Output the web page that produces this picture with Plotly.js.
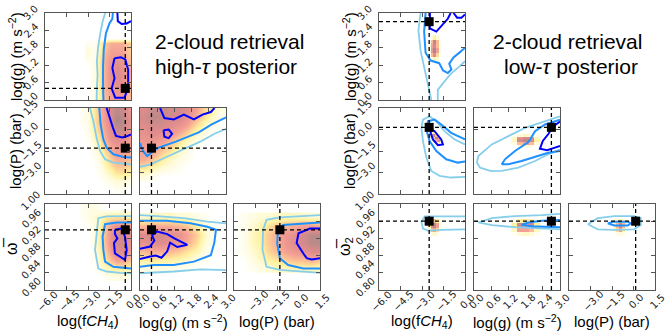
<!DOCTYPE html>
<html>
<head>
<meta charset="utf-8">
<script src="https://cdn.plot.ly/plotly-3.0.1.min.js"></script>
<style>
  body { margin: 0; background: #fff; }
  #chart { width: 667px; height: 336px; }
</style>
</head>
<body>
<div id="chart"></div>
<script>
// ---- parameter axes ----
const tickVals = {
    f: [-6, -4.5, -3, -1.5, 0],
    g: [0, 0.6, 1.2, 1.8, 2.4, 3.0],
    p: [-4.5, -3, -1.5, 0, 1.5],
    w: [0.80, 0.84, 0.88, 0.92, 0.96, 1.00]
};
const tickText = {
    f: ['\u22126.0', '\u22124.5', '\u22123.0', '\u22121.5', '0.0'],
    g: ['0.0', '0.6', '1.2', '1.8', '2.4', '3.0'],
    p: ['', '\u22123.0', '\u22121.5', '0.0', '1.5'],
    w: ['0.80', '0.84', '0.88', '0.92', '0.96', '1.00']
};
const axisRange = { f: [-6, 0], g: [0, 3], p: [-4.5, 1.5], w: [0.8, 1.0] };

// truth values: fCH4, g, P, omega
const hiTruth = [-0.4, 0.4, -1.3, 0.94];
const loTruth = [-2.5, 2.7, 0.15, 0.96];

// ---- high-tau posterior ----
const hiFgX = [-3.0, -2.6, -2.2, -1.8, -1.4, -1.0, -0.6, -0.2];
const hiFgY = [0.15, 0.45, 0.75, 1.05, 1.35, 1.65, 1.95, 2.12];
const hiFgZ = [
    [0, 0.1, 0.25, 0.5, 0.6, 0.65, 0.6, 0.5],
    [0, 0.1, 0.3, 0.55, 0.65, 0.7, 0.7, 0.55],
    [0, 0.1, 0.3, 0.55, 0.7, 0.75, 0.7, 0.55],
    [0, 0.1, 0.3, 0.55, 0.7, 0.75, 0.7, 0.55],
    [0.05, 0.1, 0.3, 0.55, 0.65, 0.7, 0.65, 0.5],
    [0.15, 0.05, 0.25, 0.5, 0.6, 0.6, 0.6, 0.45],
    [0.05, 0.05, 0.2, 0.45, 0.55, 0.55, 0.55, 0.45],
    [0, 0, 0, 0, 0, 0, 0, 0]
];
const hiFgSky = [[-1.8, 3.0], [-1.98, 2.71], [-2.16, 2.25], [-2.3, 1.8], [-2.38, 1.33], [-2.33, 0.87], [-2.38, 0.4], [-2.4, 0.0]];
const hiFgMid = [[-1.27, 3.0], [-1.3, 2.8], [-1.5, 2.65], [-1.75, 2.3], [-1.9, 1.75], [-1.95, 1.15], [-1.95, 0.45], [-1.92, 0.0]];
const hiFgDarkA = [[-0.95, 3.0], [-0.92, 2.72], [-0.65, 2.62], [-0.3, 2.64], [0, 2.72]];
const hiFgDarkB = [[-1.15, 1.44], [-0.7, 1.47], [-0.4, 1.4], [-0.2, 1.05], [-0.2, 0.45], [-0.45, 0.08], [-1.1, 0.08], [-1.35, 0.4], [-1.15, 0.75], [-1.3, 1.1], [-1.15, 1.44]];

const hiFpX = [-3.4, -3.0, -2.6, -2.2, -1.8, -1.4, -1.0, -0.6, -0.2];
const hiFpY = [-4.2, -3.6, -3.0, -2.4, -1.8, -1.2, -0.6, 0.0, 0.6, 1.2];
const hiFpZ = [
    [0, 0, 0, 0, 0, 0, 0.05, 0.05, 0],
    [0, 0, 0, 0, 0.05, 0.1, 0.15, 0.15, 0.1],
    [0, 0, 0, 0.05, 0.15, 0.25, 0.35, 0.35, 0.3],
    [0, 0, 0, 0.1, 0.25, 0.4, 0.5, 0.5, 0.45],
    [0, 0, 0.05, 0.15, 0.35, 0.5, 0.6, 0.6, 0.55],
    [0, 0, 0.1, 0.25, 0.45, 0.6, 0.65, 0.65, 0.6],
    [0, 0.05, 0.2, 0.35, 0.55, 0.7, 0.75, 0.75, 0.65],
    [0, 0.1, 0.25, 0.45, 0.6, 0.75, 0.85, 0.85, 0.7],
    [0.05, 0.1, 0.3, 0.5, 0.65, 0.8, 0.95, 0.9, 0.75],
    [0.05, 0.15, 0.3, 0.5, 0.65, 0.8, 0.9, 0.85, 0.7]
];
const hiFpSky = [[-2.86, 1.5], [-2.63, 0.58], [-2.4, -0.58], [-2.16, -1.5], [-1.81, -2.08], [-1.23, -2.31], [-0.53, -2.38], [0, -2.43]];
const hiFpMid = [[-2.21, 1.5], [-2.12, 0.35], [-1.93, -0.69], [-1.7, -1.27], [-1.23, -1.73], [-0.53, -1.92], [0, -1.96]];
const hiFpDark = [[-1.7, 1.5], [-1.5, 0.8], [-1.25, 0.1], [-1.05, -0.45], [-0.6, -0.55], [-0.25, -0.45], [0, -0.35]];

const hiGpX = [0.15, 0.45, 0.75, 1.05, 1.35, 1.65, 1.95, 2.25, 2.55, 2.85];
const hiGpY = [-3.3, -2.7, -2.1, -1.5, -0.9, -0.3, 0.3, 0.9, 1.4];
const hiGpZ = [
    [0.1, 0.05, 0, 0, 0, 0, 0, 0, 0, 0],
    [0.35, 0.25, 0.15, 0.1, 0.05, 0, 0, 0, 0, 0],
    [0.55, 0.45, 0.3, 0.2, 0.1, 0.05, 0, 0, 0, 0],
    [0.6, 0.6, 0.45, 0.35, 0.2, 0.1, 0, 0, 0, 0],
    [0.65, 0.65, 0.6, 0.5, 0.35, 0.2, 0.1, 0, 0, 0],
    [0.7, 0.75, 0.7, 0.65, 0.55, 0.4, 0.2, 0.1, 0, 0],
    [0.75, 0.8, 0.8, 0.75, 0.7, 0.6, 0.4, 0.2, 0.1, 0],
    [0.8, 0.9, 0.85, 0.8, 0.8, 0.7, 0.55, 0.35, 0.2, 0.05],
    [0.75, 0.85, 0.85, 0.8, 0.8, 0.75, 0.6, 0.4, 0.25, 0.1]
];
const hiGpSky = [[0, -2.6], [0.35, -2.45], [0.94, -1.9], [1.5, -1.4], [2.1, -0.85], [2.6, -0.3], [3.0, 0.05]];
const hiGpMid = [[0, -0.95], [0.1, -1.5], [0.25, -1.85], [0.5, -1.5], [0.6, -1.3], [1.25, -0.85], [2.05, -0.2], [2.5, 0.35], [3.0, 0.85]];
const hiGpDarkA = [[0.7, 1.5], [0.85, 0.8], [1.18, 0.7], [1.53, 1.04], [1.88, 0.7], [2.18, 1.04], [2.47, 1.22], [2.6, 1.5]];
const hiGpDarkB = [[0.82, -0.05], [1.0, 0.0], [1.12, -0.3], [1.0, -0.6], [0.85, -0.5], [0.82, -0.05]];

const hiFwX = [-3.4, -3.0, -2.6, -2.2, -1.8, -1.4, -1.0, -0.6, -0.2];
const hiFwY = [0.83, 0.85, 0.87, 0.89, 0.91, 0.93, 0.95, 0.97, 0.99];
const hiFwZ = [
    [0, 0, 0, 0, 0.05, 0.1, 0.1, 0.1, 0.05],
    [0, 0, 0, 0.1, 0.2, 0.25, 0.3, 0.3, 0.25],
    [0, 0, 0.05, 0.2, 0.35, 0.5, 0.6, 0.6, 0.5],
    [0, 0, 0.05, 0.25, 0.45, 0.65, 0.75, 0.75, 0.65],
    [0, 0, 0.1, 0.3, 0.5, 0.7, 0.8, 0.8, 0.7],
    [0, 0, 0.1, 0.3, 0.5, 0.7, 0.8, 0.8, 0.7],
    [0, 0.05, 0.1, 0.25, 0.45, 0.6, 0.7, 0.7, 0.6],
    [0.05, 0.1, 0.15, 0.2, 0.3, 0.35, 0.35, 0.35, 0.3],
    [0.05, 0.1, 0.1, 0.05, 0, 0, 0, 0, 0]
];
const hiFwSky = [[0, 0.972], [-1.7, 0.971], [-2.28, 0.967], [-2.4, 0.932], [-2.51, 0.893], [-2.28, 0.85], [-1.7, 0.843], [-0.77, 0.84], [0, 0.839]];
const hiFwMid = [[0, 0.957], [-1.0, 0.957], [-1.81, 0.953], [-1.98, 0.924], [-1.93, 0.893], [-1.81, 0.866], [-1.23, 0.854], [-0.53, 0.852], [0, 0.85]];
const hiFwDark = [[-1.12, 0.94], [-0.65, 0.943], [-0.42, 0.924], [-0.3, 0.893], [-0.42, 0.87], [-0.77, 0.878], [-1.12, 0.885], [-1.19, 0.909], [-0.95, 0.92], [-1.12, 0.93], [-1.12, 0.94]];

const hiGwX = [0.15, 0.45, 0.75, 1.05, 1.35, 1.65, 1.95, 2.25, 2.55];
const hiGwY = [0.85, 0.87, 0.89, 0.91, 0.93, 0.95, 0.97];
const hiGwZ = [
    [0.1, 0.1, 0.1, 0.1, 0.05, 0.05, 0, 0, 0],
    [0.3, 0.35, 0.3, 0.3, 0.25, 0.2, 0.1, 0.05, 0],
    [0.5, 0.55, 0.55, 0.5, 0.45, 0.35, 0.25, 0.1, 0],
    [0.7, 0.75, 0.75, 0.7, 0.65, 0.55, 0.4, 0.15, 0.05],
    [0.75, 0.8, 0.8, 0.75, 0.7, 0.6, 0.45, 0.2, 0.05],
    [0.5, 0.55, 0.55, 0.55, 0.5, 0.45, 0.3, 0.15, 0.05],
    [0.15, 0.2, 0.2, 0.2, 0.15, 0.15, 0.1, 0.05, 0]
];
const hiGwSkyA = [[0, 0.974], [0.59, 0.972], [1.53, 0.967], [2.35, 0.959], [3.0, 0.955]];
const hiGwSkyB = [[0, 0.839], [1.18, 0.843], [2.12, 0.848], [3.0, 0.846]];
const hiGwMid = [[0, 0.961], [0.94, 0.961], [1.76, 0.955], [2.35, 0.947], [2.65, 0.94], [2.59, 0.909], [2.47, 0.881], [1.88, 0.866], [1.18, 0.858], [0.47, 0.858], [0, 0.854]];
const hiGwDark = [[0, 0.896], [0.35, 0.901], [0.5, 0.915], [0.42, 0.927], [0.6, 0.936], [0.95, 0.93], [1.2, 0.92], [1.45, 0.912], [1.65, 0.905], [1.3, 0.9], [1.05, 0.91], [0.95, 0.89], [0.75, 0.875], [0.55, 0.88], [0.35, 0.878], [0, 0.872]];

const hiPwX = [-3.9, -3.3, -2.7, -2.1, -1.5, -0.9, -0.3, 0.3, 0.9, 1.4];
const hiPwY = [0.85, 0.87, 0.89, 0.91, 0.93, 0.95, 0.97];
const hiPwZ = [
    [0, 0.05, 0.1, 0.15, 0.2, 0.2, 0.25, 0.25, 0.25, 0.2],
    [0, 0.1, 0.2, 0.3, 0.35, 0.45, 0.5, 0.5, 0.55, 0.5],
    [0.05, 0.15, 0.25, 0.4, 0.5, 0.6, 0.65, 0.7, 0.75, 0.75],
    [0.05, 0.2, 0.3, 0.45, 0.55, 0.65, 0.75, 0.8, 0.9, 0.9],
    [0.05, 0.2, 0.3, 0.45, 0.55, 0.65, 0.7, 0.8, 0.9, 0.9],
    [0.05, 0.15, 0.25, 0.35, 0.45, 0.5, 0.55, 0.6, 0.6, 0.55],
    [0.05, 0.1, 0.15, 0.15, 0.2, 0.2, 0.2, 0.2, 0.15, 0.15]
];
const hiPwSky = [[1.5, 0.974], [0.34, 0.972], [-1.3, 0.969], [-2.23, 0.963], [-2.47, 0.94], [-2.51, 0.893], [-2.23, 0.854], [-1.3, 0.847], [0.34, 0.843], [1.5, 0.84]];
const hiPwMid = [[1.5, 0.957], [0.34, 0.955], [-1.07, 0.951], [-1.42, 0.94], [-1.49, 0.909], [-1.3, 0.874], [-0.72, 0.858], [0.34, 0.85], [1.5, 0.85]];
const hiPwDark = [[1.5, 0.943], [0.8, 0.943], [0.0, 0.932], [-0.13, 0.909], [0.34, 0.885], [0.57, 0.874], [0.92, 0.871], [1.5, 0.874]];

// ---- low-tau posterior ----
const loFgX = [-2.5, -2.3, -2.1, -1.9, -1.7];
const loFgY = [1.4, 1.55, 1.7, 1.85, 2.0, 2.15];
const loFgZ = [
    [0, 0.15, 0.25, 0.15, 0],
    [0.05, 0.5, 0.75, 0.4, 0.05],
    [0.1, 0.65, 0.95, 0.6, 0.1],
    [0.1, 0.6, 0.8, 0.5, 0.1],
    [0.05, 0.5, 0.9, 0.5, 0.05],
    [0, 0.15, 0.3, 0.15, 0]
];
const loFgSkyA = [[-3.1, 3.0], [-3.25, 2.4], [-3.1, 1.7], [-2.8, 1.0], [-2.55, 0.45], [-2.35, 0.0]];
const loFgSkyB = [[-1.9, 0.0], [-1.9, 0.35], [-1.5, 0.6], [-1.0, 0.9], [-0.4, 1.15], [0, 1.34]];
const loFgMid = [[-2.75, 3.0], [-2.85, 2.35], [-2.75, 1.63], [-2.4, 1.36], [-1.8, 1.27], [-1.53, 1.02], [-1.2, 0.93], [-0.95, 1.05], [-1.1, 1.25], [-0.8, 1.47], [-0.35, 1.65], [0, 1.8]];
const loFgDarkA = [[-2.45, 3.0], [-2.45, 2.47], [-2.0, 2.36], [-1.6, 2.6], [-1.2, 2.8], [-1.0, 3.0]];
const loFgDarkB = [[-0.8, 3.0], [-0.55, 2.84], [-0.25, 2.84], [0, 2.95]];

const loFpX = [-2.4, -2.2, -2.0, -1.8, -1.6];
const loFpY = [-1.0, -0.8, -0.6, -0.4, -0.2, 0.0];
const loFpZ = [
    [0, 0.05, 0.2, 0.3, 0.1],
    [0, 0.2, 0.6, 0.7, 0.2],
    [0.1, 0.5, 0.9, 0.5, 0.1],
    [0.3, 0.8, 0.5, 0.1, 0],
    [0.4, 0.3, 0.1, 0, 0],
    [0.15, 0.1, 0, 0, 0]
];
const loFpSky = [[0, -1.04], [-0.73, -0.69], [-1.43, -0.12], [-2.0, 0.58], [-2.47, 0.92], [-2.93, 0.69], [-3.04, 0.11], [-2.93, -0.81], [-2.7, -1.96], [-2.35, -2.89], [-1.77, -3.23], [-1.0, -3.35], [0, -3.3]];
const loFpMid = [[0, -0.69], [-0.97, -0.23], [-1.66, 0.35], [-2.12, 0.69], [-2.58, 0.58], [-2.7, 0.0], [-2.47, -0.81], [-2.0, -1.5], [-1.31, -2.08], [-0.5, -2.31], [0, -2.24]];
const loFpDark = [[-2.35, 0.0], [-2.12, -0.12], [-1.66, -0.69], [-1.54, -1.04], [-1.89, -1.09], [-2.24, -0.69], [-2.4, -0.23], [-2.35, 0.0]];

const loGpX = [1.4, 1.6, 1.8, 2.0, 2.2];
const loGpY = [-1.2, -1.0, -0.8, -0.6, -0.4];
const loGpZ = [
    [0, 0.1, 0.15, 0.1, 0],
    [0.1, 0.5, 0.6, 0.5, 0.15],
    [0.2, 0.8, 0.9, 0.8, 0.3],
    [0.2, 0.7, 0.8, 0.7, 0.2],
    [0.05, 0.15, 0.2, 0.15, 0.05]
];
const loGpSky = [[3.0, 0.92], [2.83, 0.81], [2.36, 0.46], [1.78, 0.11], [1.2, -0.46], [0.62, -1.04], [0.15, -1.85], [0.1, -2.3], [0.21, -2.66], [0.6, -2.9], [0.97, -2.89], [1.55, -2.66], [2.13, -2.2], [2.59, -1.73], [3.0, -1.39]];
const loGpMid = [[3.0, 0.69], [2.48, 0.35], [2.13, -0.12], [1.9, -0.88], [1.43, -1.5], [1.08, -2.08], [0.97, -2.43], [1.2, -2.43], [1.66, -2.2], [2.24, -1.85], [2.59, -1.62], [3.0, -1.5]];
const loGpDark = [[3.0, 0.55], [2.75, 0.2], [2.6, -0.3], [2.4, -0.8], [2.3, -1.35], [2.55, -1.45], [2.85, -1.25], [3.0, -1.15]];

const loFwX = [-2.5, -2.3, -2.1, -1.9, -1.7];
const loFwY = [0.93, 0.94, 0.95, 0.96];
const loFwZ = [
    [0, 0.15, 0.2, 0.1, 0],
    [0.15, 0.5, 0.6, 0.4, 0.05],
    [0.3, 0.8, 0.9, 0.6, 0.1],
    [0.3, 0.5, 0.5, 0.3, 0.1]
];
const loFwSky = [[0, 0.971], [-1.66, 0.972], [-2.81, 0.971], [-3.04, 0.959], [-2.93, 0.943], [-2.58, 0.938], [-1.66, 0.94], [0, 0.941]];

const loGwX = [1.4, 1.6, 1.8, 2.0, 2.2];
const loGwY = [0.93, 0.94, 0.95, 0.96];
const loGwZ = [
    [0.05, 0.15, 0.2, 0.15, 0.05],
    [0.2, 0.6, 0.6, 0.5, 0.2],
    [0.3, 0.8, 0.7, 0.8, 0.3],
    [0.1, 0.3, 0.35, 0.3, 0.1]
];
const loGwSky = [[3.0, 0.977], [2.36, 0.974], [1.43, 0.972], [0.62, 0.967], [0.15, 0.957], [0.62, 0.951], [1.43, 0.946], [2.13, 0.943], [3.0, 0.941]];
const loGwMid = [[3.0, 0.963], [2.36, 0.961], [1.9, 0.957], [1.66, 0.952], [2.01, 0.948], [2.59, 0.946], [3.0, 0.946]];

const loPwX = [-1.3, -1.1, -0.9, -0.7, -0.5];
const loPwY = [0.93, 0.94, 0.95, 0.96];
const loPwZ = [
    [0, 0.1, 0.15, 0.1, 0],
    [0.1, 0.4, 0.6, 0.3, 0.05],
    [0.2, 0.5, 0.8, 0.5, 0.1],
    [0.1, 0.2, 0.3, 0.2, 0.05]
];
const loPwSky = [[-3.18, 0.953], [-2.49, 0.967], [-1.34, 0.972], [0.05, 0.972], [0.51, 0.967], [0.51, 0.951], [0.05, 0.941], [-1.34, 0.94], [-2.49, 0.941], [-3.18, 0.953]];
const loPwMid = [[-1.8, 0.955], [-1.34, 0.959], [-0.41, 0.959], [-0.18, 0.955], [-0.41, 0.95], [-1.34, 0.95], [-1.8, 0.955]];

// ---- panel bookkeeping ----
const sides = {
    hi: {
        truth: hiTruth, smooth: 'best',
        heat: { '00': [hiFgX, hiFgY, hiFgZ], '10': [hiFpX, hiFpY, hiFpZ], '11': [hiGpX, hiGpY, hiGpZ],
                '20': [hiFwX, hiFwY, hiFwZ], '21': [hiGwX, hiGwY, hiGwZ], '22': [hiPwX, hiPwY, hiPwZ] },
        lines: { '00': [[hiFgSky, 'sky'], [hiFgMid, 'mid'], [hiFgDarkA, 'dark'], [hiFgDarkB, 'dark']],
                 '10': [[hiFpSky, 'sky'], [hiFpMid, 'mid'], [hiFpDark, 'dark']],
                 '11': [[hiGpSky, 'sky'], [hiGpMid, 'mid'], [hiGpDarkA, 'dark'], [hiGpDarkB, 'dark']],
                 '20': [[hiFwSky, 'sky'], [hiFwMid, 'mid'], [hiFwDark, 'dark']],
                 '21': [[hiGwSkyA, 'sky'], [hiGwSkyB, 'sky'], [hiGwMid, 'mid'], [hiGwDark, 'dark']],
                 '22': [[hiPwSky, 'sky'], [hiPwMid, 'mid'], [hiPwDark, 'dark']] },
        cols: [[45, 131], [140, 226], [234, 320]]
    },
    lo: {
        truth: loTruth, smooth: false,
        heat: { '00': [loFgX, loFgY, loFgZ], '10': [loFpX, loFpY, loFpZ], '11': [loGpX, loGpY, loGpZ],
                '20': [loFwX, loFwY, loFwZ], '21': [loGwX, loGwY, loGwZ], '22': [loPwX, loPwY, loPwZ] },
        lines: { '00': [[loFgSkyA, 'sky'], [loFgSkyB, 'sky'], [loFgMid, 'mid'], [loFgDarkA, 'dark'], [loFgDarkB, 'dark']],
                 '10': [[loFpSky, 'sky'], [loFpMid, 'mid'], [loFpDark, 'dark']],
                 '11': [[loGpSky, 'sky'], [loGpMid, 'mid'], [loGpDark, 'dark']],
                 '20': [[loFwSky, 'sky']],
                 '21': [[loGwSky, 'sky'], [loGwMid, 'mid']],
                 '22': [[loPwSky, 'sky'], [loPwMid, 'mid']] },
        cols: [[379, 465], [474, 560], [569, 655]]
    }
};
const rows = [[13, 100], [108, 194], [204, 290]];
const colVar = ['f', 'g', 'p'];
const rowVar = ['g', 'p', 'w'];
const varIndex = { f: 0, g: 1, p: 2, w: 3 };

const W = 667, H = 336;
const lineStyle = {
    sky: { color: '#87ceeb', width: 1.8 },
    mid: { color: '#1e90ff', width: 2 },
    dark: { color: '#0000ff', width: 2 }
};
// hot_r colormap seen at half opacity over white
const heatScale = [
    [0, '#ffffff'], [0.15, '#fffbd8'], [0.3, '#fff2a0'], [0.45, '#fdc995'],
    [0.6, '#f4a094'], [0.75, '#e08c8c'], [0.88, '#c08a8a'], [1, '#988888']
];
const tickFont = { size: 10, family: 'DejaVu Sans, sans-serif', color: '#222' };

const traces = [];
const layout = {
    width: W, height: H,
    margin: { l: 0, r: 0, t: 0, b: 0 },
    paper_bgcolor: '#ffffff',
    plot_bgcolor: '#ffffff',
    showlegend: false,
    font: { family: 'Liberation Sans, Arial, sans-serif', color: '#000' },
    shapes: [],
    annotations: []
};

let n = 0;
for (const side of ['hi', 'lo']) {
    const s = sides[side];
    for (let r = 0; r < 3; r++) {
        for (let c = 0; c <= r; c++) {
            n++;
            const key = '' + r + c;
            const xr = n === 1 ? 'x' : 'x' + n;
            const yr = n === 1 ? 'y' : 'y' + n;
            const xv = colVar[c], yv = rowVar[r];
            const cx = s.cols[c];

            const h = s.heat[key];
            traces.push({
                type: 'heatmap', x: h[0], y: h[1], z: h[2],
                xaxis: xr, yaxis: yr,
                colorscale: heatScale, zmin: 0, zmax: 1,
                zsmooth: s.smooth, showscale: false, hoverinfo: 'skip'
            });
            for (const [pts, lvl] of s.lines[key]) {
                traces.push({
                    type: 'scatter', mode: 'lines',
                    x: pts.map(p => p[0]), y: pts.map(p => p[1]),
                    xaxis: xr, yaxis: yr,
                    line: lineStyle[lvl], hoverinfo: 'skip'
                });
            }
            const tx = s.truth[varIndex[xv]], ty = s.truth[varIndex[yv]];
            traces.push({
                type: 'scatter', mode: 'markers', x: [tx], y: [ty],
                xaxis: xr, yaxis: yr,
                marker: { symbol: 'square', size: 9, color: '#000' },
                hoverinfo: 'skip'
            });
            layout.shapes.push(
                { type: 'line', xref: xr, yref: yr + ' domain', x0: tx, x1: tx, y0: 0, y1: 1,
                  line: { color: '#000', width: 1.3, dash: '4px,3px' } },
                { type: 'line', xref: xr + ' domain', yref: yr, x0: 0, x1: 1, y0: ty, y1: ty,
                  line: { color: '#000', width: 1.3, dash: '4px,3px' } }
            );

            const common = {
                showgrid: false, zeroline: false, showline: true, mirror: 'ticks',
                linecolor: '#555555', linewidth: 1.3,
                ticks: 'inside', ticklen: 4, tickcolor: '#555555',
                showticklabels: false, tickmode: 'array'
            };
            layout[n === 1 ? 'xaxis' : 'xaxis' + n] = Object.assign({}, common, {
                domain: [cx[0] / W, cx[1] / W], anchor: yr,
                range: axisRange[xv], tickvals: tickVals[xv]
            });
            layout[n === 1 ? 'yaxis' : 'yaxis' + n] = Object.assign({}, common, {
                domain: [1 - rows[r][1] / H, 1 - rows[r][0] / H], anchor: xr,
                range: axisRange[yv], tickvals: tickVals[yv]
            });

            // rotated tick labels, centred on their ticks as matplotlib does
            if (r === 2) {
                tickVals[xv].forEach((v, i) => {
                    if (!tickText[xv][i]) return;
                    layout.annotations.push({
                        text: tickText[xv][i], xref: xr, yref: 'paper',
                        x: v, y: 1 - (rows[r][1] + 11) / H, xshift: 2,
                        textangle: -45, showarrow: false,
                        xanchor: 'center', yanchor: 'middle', font: tickFont
                    });
                });
            }
            if (c === 0) {
                tickVals[yv].forEach((v, i) => {
                    if (!tickText[yv][i]) return;
                    layout.annotations.push({
                        text: tickText[yv][i], xref: 'paper', yref: yr,
                        x: (cx[0] - 14) / W, y: v, yshift: yv === 'w' ? 3 : 0,
                        textangle: -45, showarrow: false,
                        xanchor: 'center', yanchor: 'middle', font: tickFont
                    });
                });
            }
        }
    }
}

// axis titles and panel titles
const xTitles = ['log(f<i>CH</i><sub>4</sub>)', 'log(g) (m s<sup>\u22122</sup>)', 'log(P) (bar)'];
const yTitles = ['log(g) (m s<sup>\u22122</sup>)', 'log(P) (bar)'];
const ann = (text, x, y, size, angle) => layout.annotations.push({
    text: text, x: x / W, y: 1 - y / H, xref: 'paper', yref: 'paper',
    showarrow: false, textangle: angle || 0, xanchor: 'center', yanchor: 'middle',
    font: { size: size, color: '#000', family: 'Liberation Sans, Arial, sans-serif' }
});
for (const [side, off] of [['hi', 0], ['lo', 334]]) {
    const s = sides[side];
    s.cols.forEach((cx, i) => ann(xTitles[i], (cx[0] + cx[1]) / 2, 321, 15));
    ann(yTitles[0], 15 + off, 57, 15, -90);
    ann(yTitles[1], 15 + off, 151, 15, -90);
}
ann('\u03c9\u0305', 11, 247, 16, -90);
ann('\u03c9\u0305<sub>2</sub>', 345, 247, 16, -90);
ann('2-cloud retrieval', 229, 41, 21);
ann('high-<i>\u03c4</i> posterior', 226, 67, 21);
ann('2-cloud retrieval', 567, 41, 21);
ann('low-<i>\u03c4</i> posterior', 571, 67, 21);

Plotly.newPlot('chart', traces, layout, { staticPlot: true });
</script>
</body>
</html>
